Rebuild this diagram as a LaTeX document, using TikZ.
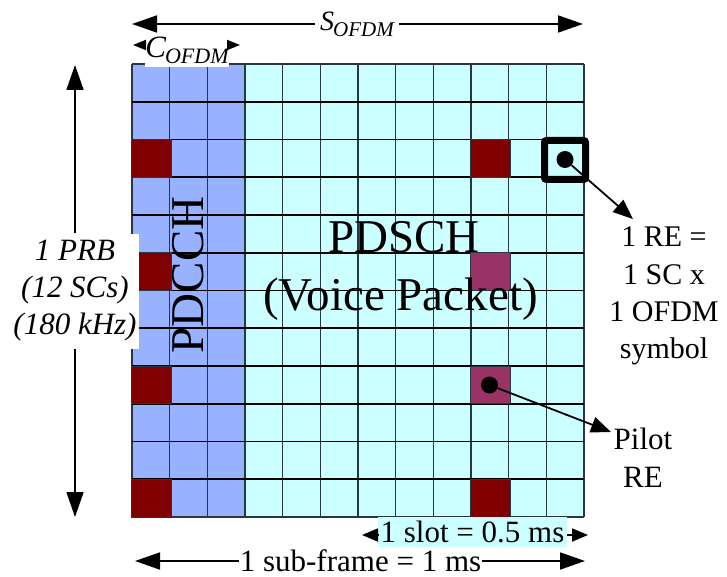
\documentclass[tikz,border=0pt]{standalone}
\usepackage{fontspec}
\setmainfont{Liberation Serif}
\usetikzlibrary{arrows.meta}
\definecolor{pdcchblue}{RGB}{153,178,255}
\definecolor{pdschcyan}{RGB}{204,255,255}
\definecolor{pilotred}{RGB}{128,0,0}
\definecolor{pilotpurple}{RGB}{153,51,102}
\definecolor{vline}{RGB}{40,55,65}
\tikzset{
  bigarrow/.style={line width=1.8, -{Triangle[length=25pt,width=17pt]}},
  smallarrow/.style={line width=1.8, -{Triangle[length=13pt,width=10pt]}},
  slotarrow/.style={line width=1.8, -{Triangle[length=16pt,width=13pt]}},
  pointer/.style={line width=1.8, -{Triangle[length=20pt,width=16pt]}},
  dot/.style={circle, fill=black, inner sep=0pt, minimum size=17pt},
  lbl/.style={inner sep=0pt, align=center},
}
\def\cw{37.667}
\def\ch{37.75}
% one pilot resource element, drawn slightly wider than its grid cell
\def\pilotcell#1#2#3{\filldraw[fill=#3, draw=vline, line width=0.8]
  ({132+#1*\cw-1},{64+#2*\ch}) rectangle ({132+(#1+1)*\cw+2},{64+(#2+1)*\ch});}
\begin{document}
\begin{tikzpicture}[x=1pt,y=-1pt]
\useasboundingbox (0,0) rectangle (727,577);

% resource grid: 3 control symbols + 9 data symbols, 12 subcarriers
\fill[pdcchblue] (132,64) rectangle ({132+3*\cw},517);
\fill[pdschcyan] ({132+3*\cw},64) rectangle (584,517);
\foreach \i in {0,...,12}
  \draw[vline, line width=1.2] ({132+\i*\cw},64) -- ({132+\i*\cw},517);
\foreach \j in {1,...,11}
  \draw[black, line width=1.8] (132,{64+\j*\ch}) -- (584,{64+\j*\ch});
\draw[vline, line width=1.2] (132,64) -- (584,64);
\draw[vline, line width=1.2] (132,517) -- (584,517);

% reference signals
\foreach \r in {2,5,8,11} { \pilotcell{0}{\r}{pilotred} }
\pilotcell{9}{2}{pilotred}
\pilotcell{9}{11}{pilotred}
\pilotcell{9}{5}{pilotpurple}
\pilotcell{9}{8}{pilotpurple}

% channel names
\node[lbl, rotate=90, font=\fontsize{47}{47}\selectfont] (pdcch) at (188.5,275) {PDCCH};
\node[lbl, anchor=base, font=\fontsize{47}{47}\selectfont] (pdsch) at (404,252) {PDSCH};
\node[lbl, anchor=base, font=\fontsize{47}{47}\selectfont] (voice) at (400.5,310) {(Voice Packet)};

% one resource element
\node[draw, line width=7, rounded corners=2, inner sep=0pt,
      minimum width=41, minimum height=39] (rebox) at (565,160) {};
\node[dot] (redot) at (565,159.5) {};
\node[dot] (pilotdot) at (489.5,385) {};
\coordinate (retip) at (633,219);
\coordinate (pilottip) at (611,432);
\draw[pointer] (redot) -- (retip);
\draw[pointer] (pilotdot) -- (pilottip);

\node[lbl, font=\fontsize{30}{37.3}\selectfont] (retext) at (664,296)
  {1 RE =\\1 SC x\\1 OFDM\\symbol};
\node[lbl, font=\fontsize{31}{38}\selectfont] (pilottext) at (643,458)
  {Pilot\\RE};

% bandwidth of one PRB
\coordinate (prbtop) at (75,65);
\coordinate (prbbot) at (75,517);
\node[lbl, fill=white, minimum width=128, minimum height=115,
      font=\fontsize{31}{37}\selectfont\itshape] (prblab) at (75,291)
  {1 PRB\\(12 SCs)\\(180 kHz)};
\draw[bigarrow] (prblab.north) -- (prbtop);
\draw[bigarrow] (prblab.south) -- (prbbot);

% symbol durations
\coordinate (sleft) at (132,24);
\coordinate (sright) at (583,24);
\node[fill=white, inner xsep=5pt, inner ysep=1pt] (slab) at (357,24)
  {\fontsize{28}{28}\selectfont\itshape S\kern-1pt\raisebox{-6pt}{\fontsize{21}{21}\selectfont OFDM}};
\draw[bigarrow] (slab.west |- sleft) -- (sleft);
\draw[bigarrow] (slab.east |- sright) -- (sright);

\coordinate (cleft) at (133,45);
\coordinate (cright) at (240,45);
\node[fill=white, inner sep=0pt, minimum width=82, minimum height=34] (clab) at (187,50)
  {\raisebox{2pt}{\fontsize{31}{31}\selectfont\itshape C\kern-1pt\raisebox{-6pt}{\fontsize{22}{22}\selectfont OFDM}}};
\draw[smallarrow] (clab.west |- cleft) -- (cleft);
\draw[smallarrow] (clab.east |- cright) -- (cright);

% slot and sub-frame durations
\coordinate (slotleft) at (362,535);
\coordinate (slotright) at (588,535);
\node[lbl, fill=pdschcyan, minimum width=189, minimum height=30,
      font=\fontsize{31}{31}\selectfont] (slotlab) at (472.5,532) {1 slot = 0.5 ms};
\draw[slotarrow] (slotlab.west |- slotleft) -- (slotleft);
\draw[slotarrow] (slotlab.east |- slotright) -- (slotright);

\coordinate (subleft) at (135,561);
\coordinate (subright) at (585,561);
\node[fill=white, inner xsep=1pt, inner ysep=0pt,
      font=\fontsize{31}{31}\selectfont] (sublab) at (360.5,560.5) {1 sub-frame = 1 ms};
\draw[bigarrow] (sublab.west |- subleft) -- (subleft);
\draw[bigarrow] (sublab.east |- subright) -- (subright);
\end{tikzpicture}
\end{document}
